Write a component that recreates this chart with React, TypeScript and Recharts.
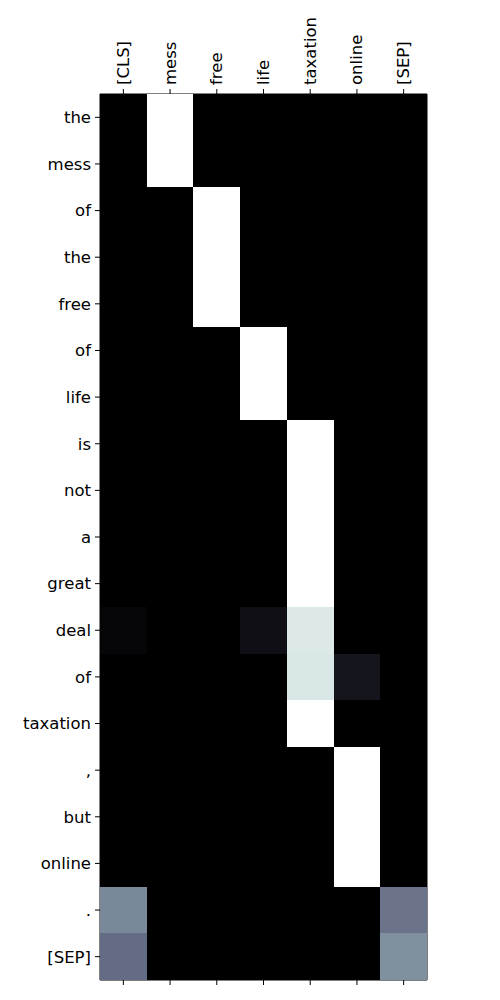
import {
  ReferenceArea,
  Scatter,
  ScatterChart,
  XAxis,
  YAxis,
} from "recharts";

// Token labels along each side of the attention map.
const colLabels = ["[CLS]", "mess", "free", "life", "taxation", "online", "[SEP]"];
const rowLabels = [
  "the", "mess", "of", "the", "free", "of", "life", "is", "not", "a",
  "great", "deal", "of", "taxation", ",", "but", "online", ".", "[SEP]",
];

// Attention weights, one row per row label, columns in colLabels order.
const weights: number[][] = [
  [0, 1, 0, 0, 0, 0, 0],
  [0, 1, 0, 0, 0, 0, 0],
  [0, 0, 1, 0, 0, 0, 0],
  [0, 0, 1, 0, 0, 0, 0],
  [0, 0, 1, 0, 0, 0, 0],
  [0, 0, 0, 1, 0, 0, 0],
  [0, 0, 0, 1, 0, 0, 0],
  [0, 0, 0, 0, 1, 0, 0],
  [0, 0, 0, 0, 1, 0, 0],
  [0, 0, 0, 0, 1, 0, 0],
  [0, 0, 0, 0, 1, 0, 0],
  [0.027, 0, 0, 0.067, 0.903, 0, 0],
  [0, 0, 0, 0, 0.894, 0.094, 0],
  [0, 0, 0, 0, 1, 0, 0],
  [0, 0, 0, 0, 0, 1, 0],
  [0, 0, 0, 0, 0, 1, 0],
  [0, 0, 0, 0, 0, 1, 0],
  [0.547, 0, 0, 0, 0, 0, 0.475],
  [0.448, 0, 0, 0, 0, 0, 0.569],
];

const WIDTH = 484;
const HEIGHT = 984;
const MARGIN = { top: 0, right: 65, bottom: 0, left: 0 };
const Y_AXIS_W = 92;
const TOP_AXIS_H = 86;
const BOTTOM_AXIS_H = 12;
const plotW = WIDTH - MARGIN.left - MARGIN.right - Y_AXIS_W;
const plotH = HEIGHT - MARGIN.top - MARGIN.bottom - TOP_AXIS_H - BOTTOM_AXIS_H;
const cellW = plotW / colLabels.length;
const cellH = plotH / rowLabels.length;

const FONT = "DejaVu Sans";
const FONT_SIZE = 16.5;

// piecewise-linear interpolation helper for the matplotlib "bone" map
function seg(v: number, pts: [number, number][]) {
  for (let i = 1; i < pts.length; i++) {
    if (v <= pts[i][0]) {
      const [x0, y0] = pts[i - 1];
      const [x1, y1] = pts[i];
      return y0 + ((v - x0) / (x1 - x0)) * (y1 - y0);
    }
  }
  return pts[pts.length - 1][1];
}

function bone(v: number) {
  const r = seg(v, [[0, 0], [0.746032, 0.652778], [1, 1]]);
  const g = seg(v, [[0, 0], [0.365079, 0.319444], [0.746032, 0.777778], [1, 1]]);
  const b = seg(v, [[0, 0], [0.365079, 0.444444], [1, 1]]);
  const h = (c: number) => Math.round(c * 255).toString(16).padStart(2, "0");
  return `#${h(r)}${h(g)}${h(b)}`;
}

const cells = weights.flatMap((row, ri) =>
  row.map((v, ci) => ({ x: ci, y: ri, v }))
);

function CellShape(props: any) {
  const { cx, cy, payload } = props;
  // snap to whole pixels so neighbouring cells don't leave seams
  const x0 = Math.round(cx - cellW / 2);
  const x1 = Math.round(cx + cellW / 2);
  const y0 = Math.round(cy - cellH / 2);
  const y1 = Math.round(cy + cellH / 2);
  return (
    <rect
      x={x0}
      y={y0}
      width={x1 - x0}
      height={y1 - y0}
      fill={bone(payload.v)}
      shapeRendering="crispEdges"
    />
  );
}

function NoShape() {
  return <g />;
}

function TopTick(props: any) {
  const { x, y, payload } = props;
  return (
    <g transform={`translate(${x},${y})`}>
      <text
        transform="rotate(-90)"
        textAnchor="start"
        dominantBaseline="central"
        fontFamily={FONT}
        fontSize={FONT_SIZE}
        fill="#000"
      >
        {colLabels[payload.value]}
      </text>
    </g>
  );
}

// bottom axis shows tick marks only, no labels
function BlankTick() {
  return <g />;
}

const colTicks = colLabels.map((_, i) => i);
const rowTicks = rowLabels.map((_, i) => i);

export default function App() {
  return (
    <ScatterChart width={WIDTH} height={HEIGHT} margin={MARGIN}>
      <XAxis
        xAxisId="top"
        orientation="top"
        type="number"
        dataKey="x"
        domain={[-0.5, colLabels.length - 0.5]}
        ticks={colTicks}
        height={TOP_AXIS_H}
        interval={0}
        tickSize={5}
        tickMargin={4}
        axisLine={false}
        tickLine={{ stroke: "#000" }}
        tick={<TopTick />}
      />
      <XAxis
        xAxisId="bottom"
        orientation="bottom"
        type="number"
        dataKey="x"
        domain={[-0.5, colLabels.length - 0.5]}
        ticks={colTicks}
        height={BOTTOM_AXIS_H}
        interval={0}
        tickSize={5}
        axisLine={false}
        tickLine={{ stroke: "#000" }}
        tick={<BlankTick />}
      />
      <YAxis
        yAxisId="left"
        type="number"
        dataKey="y"
        reversed
        domain={[-0.5, rowLabels.length - 0.5]}
        ticks={rowTicks}
        width={Y_AXIS_W}
        interval={0}
        tickSize={5}
        tickMargin={4}
        axisLine={false}
        tickLine={{ stroke: "#000" }}
        tick={{ fontFamily: FONT, fontSize: FONT_SIZE, fill: "#000" }}
        tickFormatter={(v: number) => rowLabels[v]}
      />
      <Scatter
        xAxisId="top"
        yAxisId="left"
        data={cells}
        shape={<CellShape />}
        isAnimationActive={false}
      />
      <Scatter
        xAxisId="bottom"
        yAxisId="left"
        data={cells}
        shape={<NoShape />}
        isAnimationActive={false}
      />
      <ReferenceArea
        xAxisId="top"
        yAxisId="left"
        x1={-0.5}
        x2={colLabels.length - 0.5}
        y1={-0.5}
        y2={rowLabels.length - 0.5}
        fill="none"
        stroke="#000"
        strokeWidth={1}
      />
    </ScatterChart>
  );
}
